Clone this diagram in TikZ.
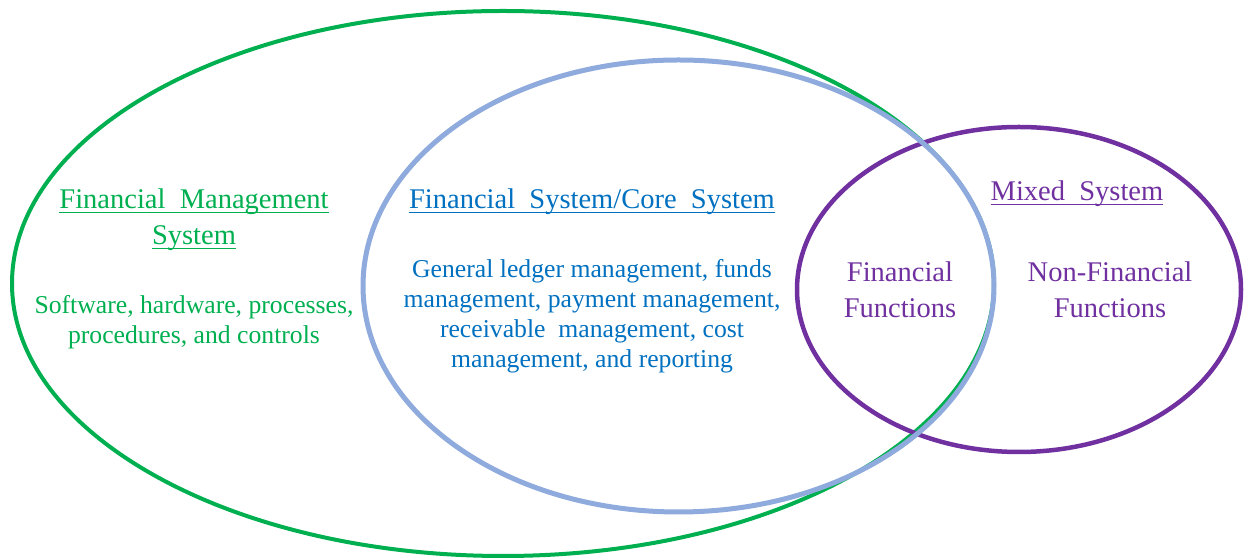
\documentclass[tikz,border=0pt]{standalone}
\usepackage{fontspec}
\setmainfont{Liberation Serif}
\definecolor{fmsgreen}{HTML}{00B050}
\definecolor{coreline}{HTML}{8FAADC}
\definecolor{coretext}{HTML}{0070C0}
\definecolor{mixpurple}{HTML}{7030A0}
\newsavebox{\ulbox}
\newcommand{\ulword}[1]{\sbox{\ulbox}{#1}\rlap{\rule[-2pt]{\wd\ulbox}{0.6pt}}\usebox{\ulbox}}

\begin{document}
\begin{tikzpicture}[x = 0.5pt, y = -0.5pt,
        every node/.style={inner sep=0pt, align=center}
]
\tikzstyle{heading}= [font=\fontsize{14.25}{18}\selectfont]
\tikzstyle{body}= [font=\fontsize{12.85}{15}\selectfont]
    \useasboundingbox (0,0) rectangle (1244,560);
    \draw[fmsgreen, line width=2pt] (503,283.5) ellipse [x radius=491, y radius=272.5];
    \draw[mixpurple, line width=2.25pt] (1019,289.5) ellipse [x radius=222, y radius=162.5];
    \draw[coreline, line width=2.5pt] (678.5,286) ellipse [x radius=315.5, y radius=226];

    \node[heading, text=fmsgreen] (fmstitle) at (194,220) {\ulword{Financial~ Management}\\\ulword{System}};
    \node[body, text=fmsgreen] (fmsbody) at (194,322.5) {Software, hardware, processes,\\procedures, and controls};
    \node[heading, text=coretext, anchor=base] (coretitle) at (592,209) {\ulword{Financial~ System/Core~ System}};
    \node[body, text=coretext] (corebody) at (592,316) {General ledger management, funds\\management, payment management,\\receivable~ management, cost\\management, and reporting};
    \node[heading, text=mixpurple, anchor=base] (mixtitle) at (1077,201) {\ulword{Mixed~ System}};
    \node[heading, text=mixpurple] (finfunc) at (900,290) {Financial\\Functions};
    \node[heading, text=mixpurple] (nonfinfunc) at (1110,290) {Non-Financial\\Functions};
\end{tikzpicture}
\end{document}
